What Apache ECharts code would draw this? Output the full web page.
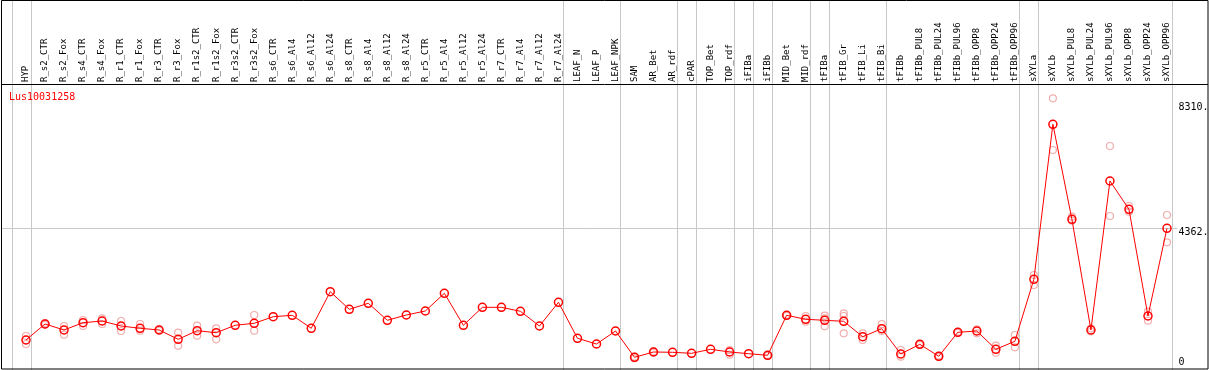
<!DOCTYPE html>
<html>
<head>
<meta charset="utf-8">
<script src="https://cdn.jsdelivr.net/npm/echarts@6/dist/echarts.min.js"></script>
<style>
  html, body { margin: 0; padding: 0; background: #fff; }
  #chart { width: 1209px; height: 370px; }
</style>
</head>
<body>
<div id="chart"></div>
<script>
// sample names, left to right
const categories = [
  'HYP', 'R_s2_CTR', 'R_s2_Fox', 'R_s4_CTR', 'R_s4_Fox', 'R_r1_CTR', 'R_r1_Fox',
  'R_r3_CTR', 'R_r3_Fox', 'R_r1s2_CTR', 'R_r1s2_Fox', 'R_r3s2_CTR', 'R_r3s2_Fox',
  'R_s6_CTR', 'R_s6_Al4', 'R_s6_Al12', 'R_s6_Al24', 'R_s8_CTR', 'R_s8_Al4',
  'R_s8_Al12', 'R_s8_Al24', 'R_r5_CTR', 'R_r5_Al4', 'R_r5_Al12', 'R_r5_Al24',
  'R_r7_CTR', 'R_r7_Al4', 'R_r7_Al12', 'R_r7_Al24', 'LEAF_N', 'LEAF_P', 'LEAF_NPK',
  'SAM', 'AR_Bet', 'AR_rdf', 'cPAR', 'TOP_Bet', 'TOP_rdf', 'iFIBa', 'iFIBb',
  'MID_Bet', 'MID_rdf', 'tFIBa', 'tFIB_Gr', 'tFIB_Li', 'tFIB_Bi', 'tFIBb',
  'tFIBb_PUL8', 'tFIBb_PUL24', 'tFIBb_PUL96', 'tFIBb_OPP8', 'tFIBb_OPP24', 'tFIBb_OPP96',
  'sXYLa', 'sXYLb', 'sXYLb_PUL8', 'sXYLb_PUL24', 'sXYLb_PUL96', 'sXYLb_OPP8',
  'sXYLb_OPP24', 'sXYLb_OPP96'
];

// mean expression per sample
const means = [
  822, 1328, 1138, 1369, 1422, 1264, 1192, 1138, 844, 1116, 1053, 1287, 1350,
  1558, 1603, 1192, 2349, 1792, 1982, 1445, 1612, 1739, 2298, 1287, 1855,
  1855, 1729, 1264, 2014, 876, 695, 1106,
  275, 443, 433, 401, 528, 443, 389, 338,
  1603, 1476, 1445, 1413, 926, 1179, 379,
  686, 307, 1065, 1106, 528, 781,
  2741, 7640, 4637, 1138, 5848, 4953, 1581, 4353
];

// replicates (null = none shown)
const rep1 = [
  948, 1360, 1264, 1454, 1508, 1422, 1328, 1160, 1053, 1274, 1192, null, 1612,
  null, null, null, null, null, null, null, null, null, null, null, null,
  null, null, null, null, null, null, null,
  294, 460, null, null, null, 506, null, 350,
  1620, 1581, 1590, 1666, 1034, 1328, 506,
  700, 330, 1080, 1160, 642, 980,
  2877, 8462, 4719, 1190, 6954, 5058, 1716, 4773
];
const rep2 = [
  695, 1300, 989, 1264, 1328, 1106, 1116, 1116, 642, 958, 844, null, 1116,
  null, null, null, null, null, null, null, null, null, null, null, null,
  null, null, null, null, null, null, null,
  243, 425, null, null, null, 357, null, 320,
  1585, 1400, 1508, 1581, 822, 1106, 294,
  670, 290, 1050, 1034, 420, 591,
  2560, 6828, 4593, 1090, 4742, 4877, 1432, 3910
];
const rep3 = [
  null, null, null, null, null, null, null, null, null, null, null, null, null,
  null, null, null, null, null, null, null, null, null, null, null, null,
  null, null, null, null, null, null, null,
  null, null, null, null, null, null, null, null,
  null, null, 1255, 1034, null, null, null,
  null, null, null, null, null, null,
  null, null, null, null, null, null, null, null
];

// right axis
const yTickValues = [0, 4362, 8310];
const yTickLabels = ['0', '4362.', '8310.'];
const yMax = 8914;

// group separators: a grey line after these sample indices
const separatorsAfter = [-1, 0, 28, 31, 34, 35, 37, 38, 39, 41, 42, 45, 52, 53, 60];
const refLineValue = 4362;

const FONT = 'DejaVu Sans Mono';
const GREY = '#c8c8c8';

const repData = [];
[rep1, rep2, rep3].forEach(arr => {
  arr.forEach((v, i) => { if (v != null) repData.push([i, v]); });
});

const chart = echarts.init(document.getElementById('chart'), null, { renderer: 'canvas' });

chart.setOption({
  animation: false,
  backgroundColor: '#fff',
  title: {
    text: 'Lus10031258',
    left: 9,
    top: 92,
    padding: 0,
    textStyle: { color: '#ff0000', fontSize: 10, fontWeight: 'normal', fontFamily: FONT }
  },
  grid: { left: 16.5, right: 32.5, top: 84, bottom: 4, outerBoundsMode: 'none' },
  xAxis: {
    type: 'category',
    position: 'top',
    data: categories,
    boundaryGap: true,
    axisLine: { show: false },
    axisTick: { show: false },
    splitLine: { show: false },
    axisLabel: {
      interval: 0,
      rotate: 90,
      margin: 2,
      color: '#000',
      fontSize: 9,
      fontFamily: FONT
    }
  },
  yAxis: {
    type: 'value',
    position: 'right',
    min: 0,
    max: yMax,
    axisLine: { show: false },
    axisTick: { show: false },
    splitLine: { show: false },
    axisLabel: {
      customValues: yTickValues,
      margin: 2,
      color: '#000',
      fontSize: 10,
      fontFamily: FONT,
      formatter: v => {
        const k = yTickValues.indexOf(v);
        const s = k >= 0 ? yTickLabels[k] : '';
        return v === 0 ? '{lo|' + s + '}' : '{hi|' + s + '}';
      },
      rich: {
        hi: { fontSize: 10, fontFamily: FONT, color: '#000', padding: [8, 0, 0, 0] },
        lo: { fontSize: 10, fontFamily: FONT, color: '#000', padding: [0, 0, 8, 0] }
      }
    }
  },
  series: [
    {
      name: 'replicates',
      type: 'scatter',
      data: repData,
      symbol: 'circle',
      symbolSize: 7,
      z: 2,
      itemStyle: { color: 'rgba(0,0,0,0)', borderColor: '#ee9a9a', borderWidth: 1.2 }
    },
    {
      name: 'mean',
      type: 'line',
      data: means,
      symbol: 'circle',
      symbolSize: 8,
      showAllSymbol: true,
      z: 3,
      lineStyle: { color: '#ff0000', width: 1 },
      itemStyle: { color: 'rgba(0,0,0,0)', borderColor: '#ff0000', borderWidth: 1.5 }
    }
  ]
});

// frame, header rule, group separators and the reference line, placed from the axes
const p0 = chart.convertToPixel({ xAxisIndex: 0 }, 0);
const p1 = chart.convertToPixel({ xAxisIndex: 0 }, 1);
const step = p1 - p0;
const lastX = chart.convertToPixel({ xAxisIndex: 0 }, categories.length - 1);
const topY = chart.convertToPixel({ yAxisIndex: 0 }, yMax);
const refY = Math.round(chart.convertToPixel({ yAxisIndex: 0 }, refLineValue)) + 0.5;
const crisp = x => Math.round(x) + 0.5;

const els = [];
separatorsAfter.forEach(i => {
  const x = crisp(p0 + step * (i + 0.24));
  els.push({
    type: 'line', z: 0, silent: true,
    shape: { x1: x, y1: 0, x2: x, y2: 370 },
    style: { stroke: GREY, lineWidth: 1 }
  });
});
els.push({
  type: 'line', z: 0, silent: true,
  shape: { x1: 1, y1: refY, x2: crisp(lastX + step / 2), y2: refY },
  style: { stroke: GREY, lineWidth: 1 }
});
els.push({
  type: 'line', z: 1, silent: true,
  shape: { x1: 1, y1: crisp(topY), x2: 1208, y2: crisp(topY) },
  style: { stroke: '#000', lineWidth: 1 }
});
els.push({
  type: 'rect', z: 1, silent: true,
  shape: { x: 1.5, y: 0.5, width: 1206.5, height: 368.5 },
  style: { fill: null, stroke: '#000', lineWidth: 1 }
});

chart.setOption({ graphic: { elements: els } });
window.addEventListener('resize', () => chart.resize());
</script>
</body>
</html>
